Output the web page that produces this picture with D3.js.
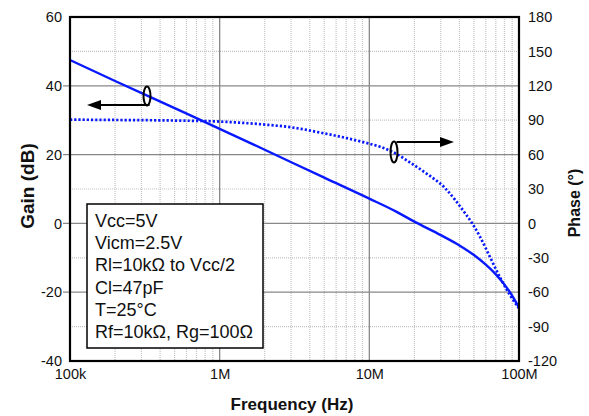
<!DOCTYPE html>
<html><head><meta charset="utf-8">
<script src="https://cdn.jsdelivr.net/npm/d3@7"></script>
<style>
html,body{margin:0;padding:0;background:#fff;}
svg{display:block;font-family:"Liberation Sans",Arial,sans-serif;}
</style></head>
<body>
<svg id="c" width="589" height="416"></svg>
<script>
// ---- data ----
const gainFreq  = [1e5, 2e5, 5e5, 1e6, 2e6, 5e6, 1e7, 1.5e7, 2e7, 3e7, 4e7, 5e7, 6e7, 7e7, 8e7, 9e7, 1e8];
const gainDb    = [47.5, 41.4, 33.5, 27.5, 21.4, 13.3, 7.2, 3.5, 0.5, -3.4, -6.4, -9.2, -12.0, -14.8, -17.8, -21.0, -24.5];
const phaseFreq = [1e5, 2e5, 5e5, 1e6, 2e6, 3e6, 5e6, 7e6, 1e7, 1.2e7, 1.5e7, 1.9e7, 2.35e7, 3.2e7, 3.75e7, 4.35e7, 4.9e7, 5.5e7, 6.4e7, 7.5e7, 8.7e7, 1e8];
const phaseDeg  = [90.5, 90.2, 89.7, 88.8, 86.2, 83.8, 78.5, 74.5, 69.5, 66.5, 61.0, 52.5, 44.5, 30.9, 20.4, 9.1, -0.5, -11.9, -29.3, -47.6, -62.5, -74.0];
const xTicks = [1e5, 1e6, 1e7, 1e8];
const xTickLabels = ["100k", "1M", "10M", "100M"];
const gainTicks = [60, 40, 20, 0, -20, -40];
const phaseTicks = [180, 150, 120, 90, 60, 30, 0, -30, -60, -90, -120];
const notes = ["Vcc=5V", "Vicm=2.5V", "Rl=10k\u03A9 to Vcc/2", "Cl=47pF", "T=25\u00B0C", "Rf=10k\u03A9, Rg=100\u03A9"];

// ---- layout ----
const L = 70, R = 519, T = 17, B = 361;
const svg = d3.select("#c");
const x = d3.scaleLog().domain([1e5, 1e8]).range([L, R]);
const yG = d3.scaleLinear().domain([-40, 60]).range([B, T]);
const yP = d3.scaleLinear().domain([-120, 180]).range([B, T]);
const blue = "#0818ff";
const fmt = d => String(d); // plain hyphen minus

// minor grids
const minorX = [];
for (let d = 1e5; d < 1e8; d *= 10) for (let k = 2; k <= 9; k++) minorX.push(d * k);
svg.append("g").selectAll("line").data(minorX).join("line")
  .attr("x1", d => x(d)).attr("x2", d => x(d)).attr("y1", T).attr("y2", B)
  .attr("stroke", "#c4c4c4").attr("stroke-width", 1.2).attr("stroke-dasharray", "1,1");
const minorY = d3.range(-30, 60, 20);
svg.append("g").selectAll("line").data(minorY).join("line")
  .attr("x1", L).attr("x2", R).attr("y1", d => yG(d)).attr("y2", d => yG(d))
  .attr("stroke", "#c4c4c4").attr("stroke-width", 1.2).attr("stroke-dasharray", "1,1");

// major grids
svg.append("g").selectAll("line").data([1e6, 1e7]).join("line")
  .attr("x1", d => x(d)).attr("x2", d => x(d)).attr("y1", T).attr("y2", B)
  .attr("stroke", "#888").attr("stroke-width", 1.3);
svg.append("g").selectAll("line").data([40, 20, 0, -20]).join("line")
  .attr("x1", L - 7).attr("x2", R).attr("y1", d => yG(d)).attr("y2", d => yG(d))
  .attr("stroke", "#888").attr("stroke-width", 1.3);

// axes via d3 axis (labels only)
const fontTick = "14.5px";
const gL = svg.append("g").attr("transform", `translate(${L},0)`)
  .call(d3.axisLeft(yG).tickValues(gainTicks).tickFormat(fmt).tickSize(0).tickPadding(8));
const gR = svg.append("g").attr("transform", `translate(${R},0)`)
  .call(d3.axisRight(yP).tickValues(phaseTicks).tickFormat(fmt).tickSize(0).tickPadding(9));
const gB = svg.append("g").attr("transform", `translate(0,${B})`)
  .call(d3.axisBottom(x).tickValues(xTicks).tickFormat((d, i) => xTickLabels[i]).tickSize(0).tickPadding(8));
[gL, gR, gB].forEach(g => {
  g.select(".domain").remove();
  g.selectAll("text").attr("font-size", fontTick).attr("fill", "#111")
    .attr("font-family", "Liberation Sans, Arial, sans-serif");
});

// curves
const lineG = d3.line().x((d, i) => x(gainFreq[i])).y(d => yG(d)).curve(d3.curveMonotoneX);
const lineP = d3.line().x((d, i) => x(phaseFreq[i])).y(d => yP(d)).curve(d3.curveMonotoneX);
svg.append("path").attr("d", lineP(phaseDeg)).attr("fill", "none")
  .attr("stroke", blue).attr("stroke-width", 2.7).attr("stroke-dasharray", "2.2,2");
svg.append("path").attr("d", lineG(gainDb)).attr("fill", "none")
  .attr("stroke", blue).attr("stroke-width", 2.4);

// frame
svg.append("rect").attr("x", L).attr("y", T).attr("width", R - L).attr("height", B - T)
  .attr("fill", "none").attr("stroke", "#000").attr("stroke-width", 2.2);

// note box
const bx = 87, by = 204, bw = 176, bh = 144;
svg.append("rect").attr("x", bx).attr("y", by).attr("width", bw).attr("height", bh)
  .attr("fill", "#fff").attr("stroke", "#000").attr("stroke-width", 1.5);
svg.append("g").selectAll("text").data(notes).join("text")
  .attr("x", bx + 8).attr("y", (d, i) => by + 23 + i * 22.2)
  .attr("font-size", "18px").attr("fill", "#111").text(d => d);

// annotations
function ann(cx, cy, ry, lineY, x2, dir) {
  const g = svg.append("g");
  g.append("ellipse").attr("cx", cx).attr("cy", cy).attr("rx", 3.5).attr("ry", ry)
    .attr("fill", "none").attr("stroke", "#000").attr("stroke-width", 2);
  const xs = cx + 2.5;
  const tip = x2, base = x2 - dir * 14;
  g.append("line").attr("x1", xs).attr("x2", base).attr("y1", lineY).attr("y2", lineY)
    .attr("stroke", "#000").attr("stroke-width", 2);
  g.append("path").attr("d", `M${tip},${lineY} L${base},${lineY - 5} L${base},${lineY + 5} Z`).attr("fill", "#000");
}
ann(147, 96, 9.5, 105, 87, -1);
ann(394, 152, 10.5, 142, 454, 1);

// titles
svg.append("text").attr("transform", "translate(34,186) rotate(-90)").attr("text-anchor", "middle")
  .attr("font-size", "19px").attr("font-weight", "bold").attr("fill", "#111").text("Gain (dB)");
svg.append("text").attr("transform", "translate(580,203) rotate(-90)").attr("text-anchor", "middle")
  .attr("font-size", "16px").attr("font-weight", "bold").attr("fill", "#111").text("Phase (\u00B0)");
svg.append("text").attr("x", 292).attr("y", 410).attr("text-anchor", "middle")
  .attr("font-size", "17px").attr("font-weight", "bold").attr("fill", "#111").text("Frequency (Hz)");
</script>
</body></html>
